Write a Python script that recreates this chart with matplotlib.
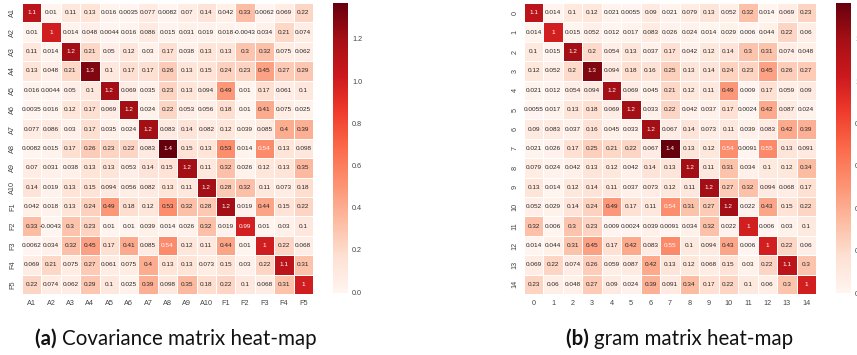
import numpy as np
import matplotlib
matplotlib.use("Agg")
import matplotlib.pyplot as plt
import seaborn as sns

# covariance matrix (left)
cov_labels = ['A1', 'A2', 'A3', 'A4', 'A5', 'A6', 'A7', 'A8', 'A9', 'A10',
              'F1', 'F2', 'F3', 'F4', 'F5']
cov = np.array([
    [1.1, 0.01, 0.11, 0.13, 0.016, 0.0035, 0.077, 0.0082, 0.07, 0.14, 0.042, 0.33, 0.0062, 0.069, 0.22],
    [0.01, 1, 0.014, 0.048, 0.0044, 0.016, 0.086, 0.015, 0.031, 0.019, 0.018, -0.0043, 0.034, 0.21, 0.074],
    [0.11, 0.014, 1.2, 0.21, 0.05, 0.12, 0.03, 0.17, 0.038, 0.13, 0.13, 0.3, 0.32, 0.075, 0.062],
    [0.13, 0.048, 0.21, 1.3, 0.1, 0.17, 0.17, 0.26, 0.13, 0.15, 0.24, 0.23, 0.45, 0.27, 0.29],
    [0.016, 0.0044, 0.05, 0.1, 1.2, 0.069, 0.035, 0.23, 0.13, 0.094, 0.49, 0.01, 0.17, 0.061, 0.1],
    [0.0035, 0.016, 0.12, 0.17, 0.069, 1.2, 0.024, 0.22, 0.053, 0.056, 0.18, 0.01, 0.41, 0.075, 0.025],
    [0.077, 0.086, 0.03, 0.17, 0.035, 0.024, 1.2, 0.083, 0.14, 0.082, 0.12, 0.039, 0.085, 0.4, 0.39],
    [0.0082, 0.015, 0.17, 0.26, 0.23, 0.22, 0.083, 1.37, 0.15, 0.13, 0.53, 0.014, 0.54, 0.13, 0.098],
    [0.07, 0.031, 0.038, 0.13, 0.13, 0.053, 0.14, 0.15, 1.2, 0.11, 0.32, 0.026, 0.12, 0.13, 0.35],
    [0.14, 0.019, 0.13, 0.15, 0.094, 0.056, 0.082, 0.13, 0.11, 1.2, 0.28, 0.32, 0.11, 0.073, 0.18],
    [0.042, 0.018, 0.13, 0.24, 0.49, 0.18, 0.12, 0.53, 0.32, 0.28, 1.2, 0.019, 0.44, 0.15, 0.22],
    [0.33, -0.0043, 0.3, 0.23, 0.01, 0.01, 0.039, 0.014, 0.026, 0.32, 0.019, 0.99, 0.01, 0.03, 0.1],
    [0.0062, 0.034, 0.32, 0.45, 0.17, 0.41, 0.085, 0.54, 0.12, 0.11, 0.44, 0.01, 1, 0.22, 0.068],
    [0.069, 0.21, 0.075, 0.27, 0.061, 0.075, 0.4, 0.13, 0.13, 0.073, 0.15, 0.03, 0.22, 1.1, 0.31],
    [0.22, 0.074, 0.062, 0.29, 0.1, 0.025, 0.39, 0.098, 0.35, 0.18, 0.22, 0.1, 0.068, 0.31, 1],
])

# gram matrix (right)
gram_labels = [str(i) for i in range(15)]
gram = np.array([
    [1.1, 0.014, 0.1, 0.12, 0.021, 0.0055, 0.09, 0.021, 0.079, 0.13, 0.052, 0.32, 0.014, 0.069, 0.23],
    [0.014, 1, 0.015, 0.052, 0.012, 0.017, 0.083, 0.026, 0.024, 0.014, 0.029, 0.006, 0.044, 0.22, 0.06],
    [0.1, 0.015, 1.2, 0.2, 0.054, 0.13, 0.037, 0.17, 0.042, 0.12, 0.14, 0.3, 0.31, 0.074, 0.048],
    [0.12, 0.052, 0.2, 1.3, 0.094, 0.18, 0.16, 0.25, 0.13, 0.14, 0.24, 0.23, 0.45, 0.26, 0.27],
    [0.021, 0.012, 0.054, 0.094, 1.2, 0.069, 0.045, 0.21, 0.12, 0.11, 0.49, 0.009, 0.17, 0.059, 0.09],
    [0.0055, 0.017, 0.13, 0.18, 0.069, 1.2, 0.033, 0.22, 0.042, 0.037, 0.17, 0.0024, 0.42, 0.087, 0.024],
    [0.09, 0.083, 0.037, 0.16, 0.045, 0.033, 1.2, 0.067, 0.14, 0.073, 0.11, 0.039, 0.083, 0.42, 0.39],
    [0.021, 0.026, 0.17, 0.25, 0.21, 0.22, 0.067, 1.37, 0.13, 0.12, 0.54, 0.0091, 0.55, 0.13, 0.091],
    [0.079, 0.024, 0.042, 0.13, 0.12, 0.042, 0.14, 0.13, 1.2, 0.11, 0.31, 0.034, 0.1, 0.12, 0.34],
    [0.13, 0.014, 0.12, 0.14, 0.11, 0.037, 0.073, 0.12, 0.11, 1.2, 0.27, 0.32, 0.094, 0.068, 0.17],
    [0.052, 0.029, 0.14, 0.24, 0.49, 0.17, 0.11, 0.54, 0.31, 0.27, 1.2, 0.022, 0.43, 0.15, 0.22],
    [0.32, 0.006, 0.3, 0.23, 0.009, 0.0024, 0.039, 0.0091, 0.034, 0.32, 0.022, 1, 0.006, 0.03, 0.1],
    [0.014, 0.044, 0.31, 0.45, 0.17, 0.42, 0.083, 0.55, 0.1, 0.094, 0.43, 0.006, 1, 0.22, 0.06],
    [0.069, 0.22, 0.074, 0.26, 0.059, 0.087, 0.42, 0.13, 0.12, 0.068, 0.15, 0.03, 0.22, 1.1, 0.3],
    [0.23, 0.06, 0.048, 0.27, 0.09, 0.024, 0.39, 0.091, 0.34, 0.17, 0.22, 0.1, 0.06, 0.3, 1],
])

W, H = 857, 355
fig = plt.figure(figsize=(W / 100, H / 100), dpi=100)


def box(x0, y0, x1, y1):
    # pixel box (top-left origin) -> figure fraction
    return [x0 / W, 1 - y1 / H, (x1 - x0) / W, (y1 - y0) / H]


tick_col = '#444444'
fnt = 'Liberation Sans'


def draw(mat, labels, hm_box, cb_box, vmin=None):
    ax = fig.add_axes(box(*hm_box))
    cax = fig.add_axes(box(*cb_box))
    sns.heatmap(mat, ax=ax, cbar_ax=cax, cmap='Reds', annot=True, fmt='.2g',
                linewidths=0.5, linecolor='white', vmin=vmin,
                xticklabels=labels, yticklabels=labels,
                annot_kws={'fontsize': 4.6, 'family': fnt})
    ax.tick_params(length=0, labelsize=5.2, colors=tick_col, pad=4)
    for t in ax.get_xticklabels() + ax.get_yticklabels():
        t.set_family(fnt)
    plt.setp(ax.get_yticklabels(), rotation=90, va='center')
    plt.setp(ax.get_xticklabels(), rotation=0)
    cax.tick_params(length=0, labelsize=5.2, colors=tick_col, pad=3)
    # colorbar ticks (on the right panel these run past the page edge, as in the source)
    cax.set_yticks(np.arange(0, 1.3, 0.2))
    cax.set_yticklabels(['%.1f' % v for v in np.arange(0, 1.3, 0.2)], family=fnt)
    for s in cax.spines.values():
        s.set_visible(False)


draw(cov, cov_labels, (22, 3, 313, 294), (333, 3, 348, 293))
draw(gram, gram_labels, (524, 3, 816, 294), (836, 3, 851, 293), vmin=0)

renderer = fig.canvas.get_renderer()


def caption(cx, cy, bold, rest):
    kw = dict(fontsize=14.8, family='Lato', color='#111111', va='baseline')
    a = fig.text(0, 0, bold + ' ', weight='bold', **kw)
    b = fig.text(0, 0, rest, **kw)
    wa = a.get_window_extent(renderer).width
    wb = b.get_window_extent(renderer).width
    x0 = cx - (wa + wb) / 2
    a.set_position((x0 / W, 1 - cy / H))
    b.set_position(((x0 + wa) / W, 1 - cy / H))


caption(176, 345, '(a)', 'Covariance matrix heat-map')
caption(680, 345, '(b)', 'gram matrix heat-map')

fig.savefig('out.png', dpi=100)
